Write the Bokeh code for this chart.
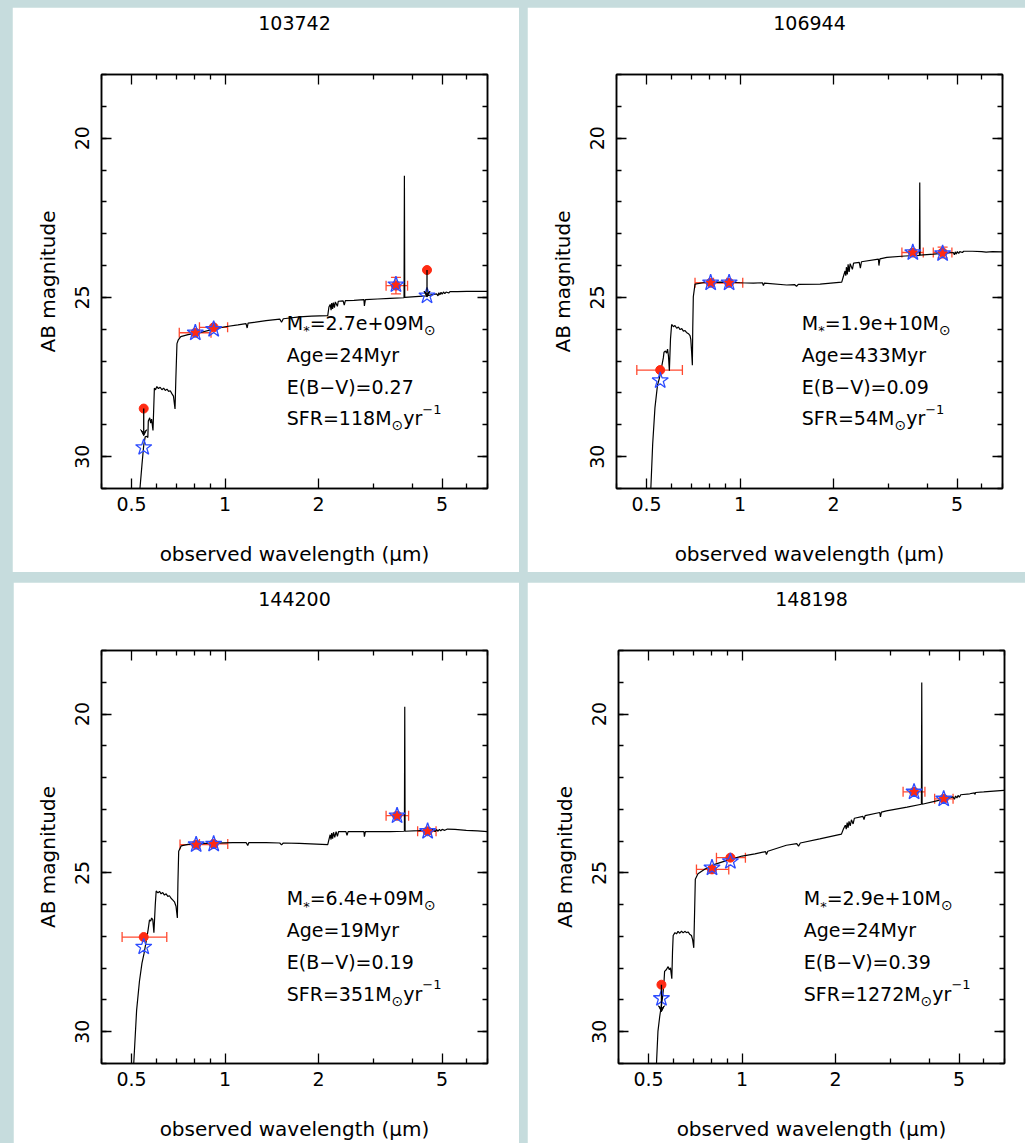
from bokeh.plotting import figure
from bokeh.layouts import row, column
from bokeh.models import (Range1d, FixedTicker, LinearAxis, LogAxis, Label, Whisker, TeeHead,
                          Arrow, VeeHead, ColumnDataSource, CustomJSTickFormatter)
from bokeh.embed import file_html
from bokeh.resources import INLINE

# ---------------- data ----------------
ids = ["103742", "106944", "144200", "148198"]

# model SED (observed wavelength in micron, AB magnitude)
sed_wl_103742 = [0.532, 0.540, 0.547, 0.553, 0.560, 0.564, 0.566, 0.572, 0.576, 0.580, 0.586, 0.592, 0.597, 0.603,
                 0.610, 0.618, 0.626, 0.634, 0.642, 0.650, 0.658, 0.666, 0.674, 0.682, 0.690, 0.694, 0.700, 0.707,
                 0.720, 0.760, 0.827, 0.900, 1.000, 1.100, 1.168, 1.178, 1.186, 1.355, 1.50, 1.52, 1.54, 1.735,
                 1.90, 2.141, 2.160, 2.180, 2.195, 2.205, 2.220, 2.232, 2.250, 2.265, 2.300, 2.315, 2.40, 2.42,
                 2.44, 2.60, 2.80, 2.81, 2.83, 3.10, 3.40, 3.770, 3.780, 3.790, 4.000, 4.440, 4.80, 4.85, 4.88,
                 4.92, 4.96, 5.00, 5.05, 5.10, 5.15, 5.25, 5.30, 5.60, 6.00, 6.50, 7.00]
sed_mag_103742 = [31.0, 30.25, 29.65, 29.38, 29.36, 29.40, 28.88, 28.78, 28.95, 28.82, 29.18, 27.85, 27.90, 27.80,
                  27.86, 27.82, 27.90, 27.85, 27.92, 27.88, 27.95, 27.93, 28.02, 28.10, 28.50, 27.60, 26.45, 26.33,
                  26.23, 26.17, 26.11, 26.02, 25.92, 25.86, 25.82, 25.96, 25.81, 25.73, 25.68, 25.78, 25.67, 25.61,
                  25.59, 25.57, 25.30, 25.22, 25.40, 25.18, 25.36, 25.16, 25.32, 25.14, 25.28, 25.12, 25.11, 25.24,
                  25.10, 25.09, 25.07, 25.27, 25.07, 25.05, 25.03, 25.01, 21.18, 25.00, 24.98, 24.95, 24.89, 24.95,
                  24.85, 24.92, 24.84, 24.90, 24.83, 24.88, 24.83, 24.86, 24.82, 24.82, 24.81, 24.81, 24.81]

sed_wl_106944 = [0.516, 0.523, 0.532, 0.542, 0.550, 0.559, 0.566, 0.569, 0.575, 0.580, 0.584, 0.588, 0.592, 0.597,
                 0.602, 0.610, 0.617, 0.625, 0.633, 0.641, 0.649, 0.657, 0.665, 0.672, 0.682, 0.690, 0.694, 0.698,
                 0.702, 0.704, 0.707, 0.716, 0.760, 0.862, 1.000, 1.104, 1.180, 1.189, 1.198, 1.413, 1.50, 1.52,
                 1.54, 1.810, 2.125, 2.150, 2.178, 2.190, 2.200, 2.215, 2.228, 2.245, 2.262, 2.30, 2.32, 2.42, 2.44,
                 2.46, 2.79, 2.80, 2.82, 2.970, 3.40, 3.780, 3.790, 3.800, 4.20, 4.86, 4.90, 4.93, 4.97, 5.01,
                 5.06, 5.10, 5.20, 5.25, 5.60, 6.00, 6.20, 6.50, 7.00]
sed_mag_106944 = [31.0, 29.62, 28.46, 27.76, 27.53, 27.18, 26.90, 26.72, 26.68, 26.75, 26.62, 26.84, 27.30, 26.30,
                  25.85, 25.92, 25.88, 25.97, 25.93, 26.01, 25.98, 26.06, 26.04, 26.10, 26.14, 26.20, 26.32, 26.70,
                  27.13, 26.00, 24.98, 24.58, 24.54, 24.52, 24.54, 24.55, 24.54, 24.63, 24.55, 24.61, 24.60, 24.65,
                  24.59, 24.58, 24.52, 24.35, 24.17, 24.32, 24.05, 24.28, 23.96, 24.20, 23.94, 24.12, 23.92, 23.90,
                  24.08, 23.88, 23.80, 24.00, 23.79, 23.74, 23.70, 23.68, 21.39, 23.67, 23.64, 23.59, 23.66, 23.57,
                  23.64, 23.56, 23.62, 23.56, 23.59, 23.55, 23.55, 23.56, 23.58, 23.56, 23.57]

sed_wl_144200 = [0.508, 0.519, 0.530, 0.540, 0.548, 0.557, 0.565, 0.571, 0.576, 0.580, 0.585, 0.590, 0.596, 0.600,
                 0.608, 0.615, 0.622, 0.630, 0.638, 0.646, 0.654, 0.662, 0.670, 0.678, 0.687, 0.695, 0.702, 0.705,
                 0.709, 0.722, 0.760, 0.869, 1.059, 1.170, 1.183, 1.192, 1.356, 1.50, 1.52, 1.54, 1.735, 2.141,
                 2.160, 2.180, 2.194, 2.205, 2.220, 2.235, 2.255, 2.278, 2.30, 2.32, 2.45, 2.47, 2.49, 2.80, 2.81,
                 2.83, 3.40, 3.780, 3.790, 3.800, 4.20, 4.67, 4.75, 4.80, 4.85, 4.90, 4.95, 5.00, 5.10, 5.20, 5.50,
                 5.98, 6.50, 7.00]
sed_mag_144200 = [31.0, 29.32, 28.41, 27.84, 27.55, 27.16, 26.80, 26.48, 26.52, 26.42, 26.47, 26.88, 26.00, 25.57,
                  25.63, 25.58, 25.66, 25.62, 25.70, 25.66, 25.74, 25.72, 25.80, 25.85, 25.91, 26.05, 26.42, 25.30,
                  24.32, 24.15, 24.10, 24.07, 24.05, 24.05, 24.14, 24.05, 24.05, 24.06, 24.12, 24.06, 24.07, 24.11,
                  23.95, 23.80, 23.95, 23.75, 23.92, 23.72, 23.88, 23.70, 23.85, 23.70, 23.70, 23.82, 23.70, 23.70,
                  23.86, 23.70, 23.70, 23.69, 19.77, 23.69, 23.67, 23.64, 23.70, 23.64, 23.69, 23.63, 23.68, 23.63,
                  23.66, 23.62, 23.63, 23.66, 23.68, 23.70]

sed_wl_148198 = [0.530, 0.536, 0.543, 0.554, 0.560, 0.563, 0.570, 0.578, 0.583, 0.588, 0.594, 0.597, 0.600, 0.608,
                 0.615, 0.622, 0.630, 0.638, 0.646, 0.654, 0.662, 0.670, 0.678, 0.687, 0.693, 0.699, 0.703, 0.707,
                 0.721, 0.760, 0.807, 0.900, 1.000, 1.100, 1.190, 1.198, 1.210, 1.389, 1.50, 1.52, 1.54, 1.779,
                 2.089, 2.120, 2.150, 2.165, 2.180, 2.195, 2.210, 2.230, 2.250, 2.278, 2.300, 2.45, 2.47, 2.49,
                 2.776, 2.79, 2.81, 2.916, 3.40, 3.780, 3.790, 3.800, 4.20, 4.78, 4.83, 4.87, 4.92, 4.96, 5.01,
                 5.06, 5.41, 5.60, 5.62, 5.65, 6.00, 6.96, 7.00]
sed_mag_148198 = [31.02, 29.98, 29.52, 28.95, 28.50, 28.10, 28.05, 27.95, 28.05, 27.99, 28.33, 27.50, 26.97, 26.88,
                  26.92, 26.84, 26.90, 26.83, 26.89, 26.84, 26.88, 26.86, 26.93, 26.97, 27.10, 27.36, 26.30, 25.20,
                  25.03, 24.88, 24.75, 24.60, 24.47, 24.40, 24.33, 24.42, 24.32, 24.13, 24.08, 24.16, 24.06, 23.93,
                  23.78, 23.62, 23.50, 23.62, 23.42, 23.58, 23.38, 23.52, 23.33, 23.46, 23.28, 23.22, 23.32, 23.20,
                  23.10, 23.24, 23.09, 23.05, 22.93, 22.84, 19.01, 22.84, 22.74, 22.61, 22.68, 22.58, 22.64, 22.56,
                  22.62, 22.54, 22.51, 22.48, 22.53, 22.47, 22.45, 22.40, 22.40]

# photometry (observed) and model magnitudes in the bands
band_wl_103742 = [0.547, 0.802, 0.919, 3.55, 4.47]
obs_mag_103742 = [28.49, 26.11, 25.94, 24.63, 24.14]
wl_lo_103742 = [0.547, 0.712, 0.827, 3.30, 4.47]
wl_hi_103742 = [0.547, 0.901, 1.019, 3.87, 4.47]
mag_err_103742 = [0.0, 0.0, 0.0, 0.26, 0.0]
upper_limit_103742 = [True, False, False, False, True]
model_mag_103742 = [29.71, 26.11, 26.00, 24.60, 24.95]

band_wl_106944 = [0.553, 0.804, 0.922, 3.60, 4.49]
obs_mag_106944 = [27.28, 24.54, 24.54, 23.59, 23.59]
wl_lo_106944 = [0.465, 0.716, 0.821, 3.32, 4.19]
wl_hi_106944 = [0.652, 0.906, 1.020, 3.89, 4.81]
mag_err_106944 = [0.0, 0.0, 0.0, 0.0, 0.17]
upper_limit_106944 = [False, False, False, False, False]
model_mag_106944 = [27.61, 24.54, 24.54, 23.59, 23.62]

band_wl_144200 = [0.547, 0.807, 0.919, 3.58, 4.49]
obs_mag_144200 = [27.02, 24.11, 24.09, 23.20, 23.69]
wl_lo_144200 = [0.466, 0.716, 0.827, 3.30, 4.17]
wl_hi_144200 = [0.649, 0.906, 1.020, 3.90, 4.78]
mag_err_144200 = [0.0, 0.0, 0.0, 0.0, 0.0]
upper_limit_144200 = [False, False, False, False, False]
model_mag_144200 = [27.33, 24.11, 24.09, 23.20, 23.69]

band_wl_148198 = [0.550, 0.800, 0.917, 3.58, 4.46]
obs_mag_148198 = [28.52, 24.89, 24.52, 22.45, 22.67]
wl_lo_148198 = [0.550, 0.713, 0.827, 3.30, 4.17]
wl_hi_148198 = [0.550, 0.906, 1.025, 3.88, 4.78]
mag_err_148198 = [0.0, 0.0, 0.0, 0.0, 0.0]
upper_limit_148198 = [True, False, False, False, False]
model_mag_148198 = [28.95, 24.84, 24.64, 22.45, 22.67]

# fit parameters
mass_text = ["2.7e+09", "1.9e+10", "6.4e+09", "2.9e+10"]
age_text = ["24", "433", "19", "24"]
ebv_text = ["0.27", "0.09", "0.19", "0.39"]
sfr_text = ["118", "54", "351", "1272"]

x_major = [0.5, 1, 2, 5]
x_minor = [0.4, 0.6, 0.7, 0.8, 0.9, 3, 4, 6, 7]
y_major = [20, 25, 30]
y_minor = list(range(18, 32))

# ---------------- style ----------------
FONT = "DejaVu Sans"
RED = "#ff2a12"
ERR = "#ff4a30"
BLUE = "#2d4cff"
BG = "#c6dcdd"

panels = [
    dict(sed_wl=sed_wl_103742, sed_mag=sed_mag_103742, wl=band_wl_103742, obs=obs_mag_103742,
         lo=wl_lo_103742, hi=wl_hi_103742, err=mag_err_103742, lim=upper_limit_103742, mod=model_mag_103742),
    dict(sed_wl=sed_wl_106944, sed_mag=sed_mag_106944, wl=band_wl_106944, obs=obs_mag_106944,
         lo=wl_lo_106944, hi=wl_hi_106944, err=mag_err_106944, lim=upper_limit_106944, mod=model_mag_106944),
    dict(sed_wl=sed_wl_144200, sed_mag=sed_mag_144200, wl=band_wl_144200, obs=obs_mag_144200,
         lo=wl_lo_144200, hi=wl_hi_144200, err=mag_err_144200, lim=upper_limit_144200, mod=model_mag_144200),
    dict(sed_wl=sed_wl_148198, sed_mag=sed_mag_148198, wl=band_wl_148198, obs=obs_mag_148198,
         lo=wl_lo_148198, hi=wl_hi_148198, err=mag_err_148198, lim=upper_limit_148198, mod=model_mag_148198),
]

# geometry: width, height, margin(top,right,bottom,left), borders
geom = [
    dict(w=507, h=565, margin=(7, 0, 0, 12), bl=89, br=32, bt=66, bb=84),
    dict(w=498, h=565, margin=(7, 0, 0, 8), bl=89, br=23, bt=67, bb=83),
    dict(w=506, h=561, margin=(10, 0, 0, 13), bl=88, br=32, bt=67, bb=79),
    dict(w=498, h=561, margin=(10, 0, 0, 8), bl=91, br=21, bt=68, bb=78),
]

CW = {'M': 0.863, '=': 0.838, '.': 0.318, 'e': 0.615, '+': 0.838, 'A': 0.684, 'g': 0.635, 'y': 0.592,
      'r': 0.411, 'E': 0.632, '(': 0.390, ')': 0.390, 'B': 0.686, '\u2212': 0.838, 'V': 0.684, 'S': 0.635,
      'F': 0.575, 'R': 0.695, '*': 0.5, '\u2299': 0.838}


def text_width(s, size):
    return sum(CW.get(c, 0.636) for c in s) * size


def style_axis(ax, show_labels):
    ax.major_tick_in = 10
    ax.major_tick_out = 0
    ax.minor_tick_in = 5
    ax.minor_tick_out = 0
    ax.axis_line_color = "black"
    ax.axis_line_width = 1.5
    ax.major_tick_line_color = "black"
    ax.minor_tick_line_color = "black"
    ax.major_tick_line_width = 1.3
    ax.minor_tick_line_width = 1.3
    ax.major_label_text_font = FONT
    ax.major_label_text_color = "black"
    ax.axis_label_text_font = FONT
    ax.axis_label_text_font_style = "normal"
    ax.axis_label_text_color = "black"
    ax.axis_label_text_font_size = "20px"
    if show_labels:
        ax.major_label_text_font_size = "19px"
    else:
        ax.major_label_text_font_size = "0px"
        ax.major_label_standoff = 0
        ax.formatter = CustomJSTickFormatter(code="return ''")


def add_pieces(p, x, y, pieces):
    dx = 0.0
    for txt, size, dy in pieces:
        p.add_layout(Label(x=x, y=y, x_offset=dx, y_offset=dy, text=txt, text_font=FONT,
                           text_font_size=f"{size}px", text_baseline="middle", text_align="left",
                           text_color="black"))
        dx += text_width(txt, size)


figs = []
for i, (d, g) in enumerate(zip(panels, geom)):
    p = figure(width=g["w"], height=g["h"], x_axis_type="log",
               x_range=Range1d(0.4, 7.0), y_range=Range1d(31.0, 18.0),
               output_backend="svg", toolbar_location=None,
               min_border_left=g["bl"], min_border_right=g["br"],
               min_border_top=g["bt"], min_border_bottom=g["bb"],
               margin=g["margin"])
    p.background_fill_color = "white"
    p.border_fill_color = "white"
    p.outline_line_color = "black"
    p.outline_line_width = 1.5
    p.xgrid.visible = False
    p.ygrid.visible = False

    xt = FixedTicker(ticks=x_major, minor_ticks=x_minor)
    yt = FixedTicker(ticks=y_major, minor_ticks=y_minor)
    p.xaxis.ticker = xt
    p.yaxis.ticker = yt
    p.xaxis.formatter = CustomJSTickFormatter(code="return tick.toString()")
    p.yaxis.formatter = CustomJSTickFormatter(code="return tick.toString()")
    style_axis(p.xaxis[0], True)
    style_axis(p.yaxis[0], True)
    p.xaxis.axis_label = "observed wavelength (\u03bcm)"
    p.yaxis.axis_label = "AB magnitude"
    p.xaxis.major_label_standoff = 8
    p.xaxis.axis_label_standoff = 28
    p.yaxis.major_label_standoff = 12
    p.yaxis.axis_label_standoff = 13
    p.yaxis.major_label_orientation = "vertical"

    # top axis carries the object id as its label (acts as the panel title)
    top = LogAxis(ticker=FixedTicker(ticks=x_major, minor_ticks=x_minor))
    style_axis(top, False)
    top.axis_label = ids[i]
    top.axis_label_text_font_size = "19px"
    top.axis_label_standoff = 45
    p.add_layout(top, "above")
    right = LinearAxis(ticker=FixedTicker(ticks=y_major, minor_ticks=y_minor))
    style_axis(right, False)
    p.add_layout(right, "right")

    # model SED
    p.line(d["sed_wl"], d["sed_mag"], line_color="black", line_width=1.2)

    # error bars for detections
    det = [k for k in range(len(d["wl"])) if not d["lim"][k]]
    xsrc = ColumnDataSource(dict(y=[d["obs"][k] for k in det], lo=[d["lo"][k] for k in det],
                                 hi=[d["hi"][k] for k in det]))
    p.add_layout(Whisker(source=xsrc, base="y", lower="lo", upper="hi", dimension="width",
                         line_color=ERR, line_width=1.3,
                         lower_head=TeeHead(size=10, line_color=ERR, line_width=1.3),
                         upper_head=TeeHead(size=10, line_color=ERR, line_width=1.3)))
    ye = [k for k in det if d["err"][k] > 0]
    if ye:
        ysrc = ColumnDataSource(dict(x=[d["wl"][k] for k in ye],
                                     lo=[d["obs"][k] - d["err"][k] for k in ye],
                                     hi=[d["obs"][k] + d["err"][k] for k in ye]))
        p.add_layout(Whisker(source=ysrc, base="x", lower="lo", upper="hi", dimension="height",
                             line_color=ERR, line_width=1.3,
                             lower_head=TeeHead(size=10, line_color=ERR, line_width=1.3),
                             upper_head=TeeHead(size=10, line_color=ERR, line_width=1.3)))

    # upper limits: arrow downward (fainter)
    lim = [k for k in range(len(d["wl"])) if d["lim"][k]]
    if lim:
        asrc = ColumnDataSource(dict(x=[d["wl"][k] for k in lim], y0=[d["obs"][k] for k in lim],
                                     y1=[d["obs"][k] + 0.85 for k in lim]))
        p.add_layout(Arrow(source=asrc, x_start="x", y_start="y0", x_end="x", y_end="y1",
                           line_color="black", line_width=1.3,
                           end=VeeHead(size=6, fill_color="black", line_color="black")))

    p.scatter(d["wl"], d["obs"], marker="circle", size=9, fill_color=RED, line_color=RED)
    p.scatter(d["wl"], d["mod"], marker="star", size=17, fill_color=None, line_color=BLUE, line_width=1.3)

    # annotation text
    tx = 1.58
    add_pieces(p, tx, 25.8, [("M", 19, 0), ("*", 13, -8), ("=" + mass_text[i] + "M", 19, 0), ("\u2299", 14, -7)])
    add_pieces(p, tx, 26.8, [("Age=" + age_text[i] + "Myr", 19, 0)])
    add_pieces(p, tx, 27.8, [("E(B\u2212V)=" + ebv_text[i], 19, 0)])
    add_pieces(p, tx, 28.8, [("SFR=" + sfr_text[i] + "M", 19, 0), ("\u2299", 14, -7), ("yr", 19, 0),
                             ("\u22121", 13, 9)])
    figs.append(p)

layout = column(row(figs[0], figs[1]), row(figs[2], figs[3]), width=1025, height=1143,
                styles={"background-color": BG})

open("out.html", "w").write(file_html(layout, INLINE))
